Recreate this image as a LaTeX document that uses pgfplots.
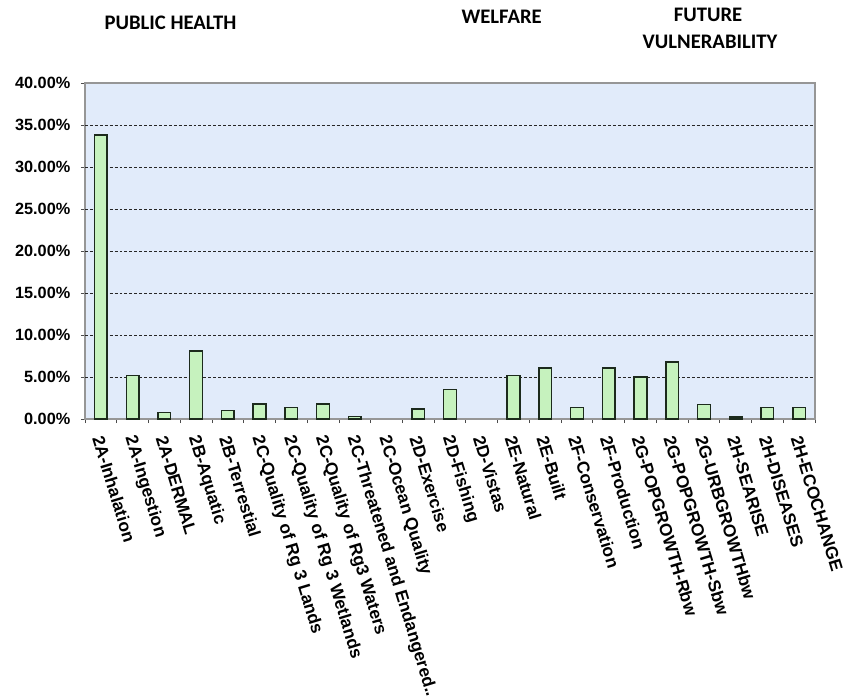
\documentclass[border=0pt]{standalone}
\usepackage{fontspec}
\setmainfont{Liberation Sans}
\newfontfamily\headfont{Carlito}
\usepackage{pgfplots}
\pgfplotsset{compat=1.18}

\definecolor{plotbg}{RGB}{225,235,250}
\definecolor{barfill}{RGB}{198,242,190}
\definecolor{barline}{RGB}{28,42,28}
\definecolor{frame}{RGB}{150,150,150}

\begin{document}
\begin{tikzpicture}
\begin{axis}[
  at={(0,0)}, anchor=south west,
  scale only axis, width=547.5pt, height=252pt,
  xmin=-0.5, xmax=22.5, ymin=0, ymax=40,
  axis background/.style={fill=plotbg},
  axis line style={draw=frame, line width=0.8pt},
  tick align=outside, major tick length=3pt,
  tick style={draw=black!70, line width=0.6pt},
  ytick pos=left, xtick pos=bottom,
  ytick={0,5,...,40},
  yticklabel={\pgfmathprintnumber[fixed,fixed zerofill,precision=2]{\tick}\%},
  /pgf/number format/assume math mode=true,
  yticklabel style={font=\bfseries\fontsize{12.2}{14}\selectfont, xshift=-4.5pt},
  extra y ticks={5,10,...,35},
  extra y tick labels={},
  extra y tick style={grid=major, major tick length=0pt,
    major grid style={draw=black!85, line width=0.7pt, dash pattern=on 2.2pt off 1.5pt}},
  xtick={-0.5,0.5,...,22.5},
  xticklabels={},
  extra x ticks={0,...,22},
  extra x tick labels={2A-Inhalation,2A-Ingestion,2A-DERMAL,2B-Aquatic,2B-Terrestial,
    2C-Quality of Rg 3 Lands,2C-Quality of Rg 3 Wetlands,2C-Quality of Rg3 Waters,
    2C-Threatened and Endangered..,2C-Ocean Quality,2D-Exercise,2D-Fishing,2D-Vistas,
    2E-Natural,2E-Built,2F-Conservation,2F-Production,2G-POPGROWTH-Rbw,
    2G-POPGROWTH-Sbw,2G-URBGROWTHbw,2H-SEARISE,2H-DISEASES,2H-ECOCHANGE},
  extra x tick style={major tick length=0pt,
    tick label style={font=\bfseries\fontsize{13}{14}\selectfont, inner sep=1pt,
      xshift=-2.5pt, yshift=-12pt, rotate=-73, anchor=west}},
]
\addplot[ybar, bar width=9.5pt, fill=barfill, draw=barline, line width=1.1pt]
  coordinates {
    (0,33.8) (1,5.2) (2,0.8) (3,8.1) (4,1.0) (5,1.8) (6,1.35) (7,1.8) (8,0.3)
    (10,1.2) (11,3.5) (13,5.2) (14,6.1) (15,1.35) (16,6.1) (17,5.0) (18,6.8)
    (19,1.7) (20,0.25) (21,1.4) (22,1.4)
  };
\end{axis}

\begin{scope}[every node/.style={anchor=base, font=\headfont\bfseries\fontsize{15.5}{18}\selectfont}]
  \node at (64.1pt,291.75pt) {PUBLIC HEALTH};
  \node at (312.5pt,296.25pt) {WELFARE};
  \node at (467.25pt,297.75pt) {FUTURE};
  \node at (468.75pt,278pt) {VULNERABILITY};
\end{scope}

\pgfresetboundingbox
\path[use as bounding box] (-63.75pt,-208.5pt) rectangle (570.75pt,314.25pt);
\end{tikzpicture}
\end{document}
